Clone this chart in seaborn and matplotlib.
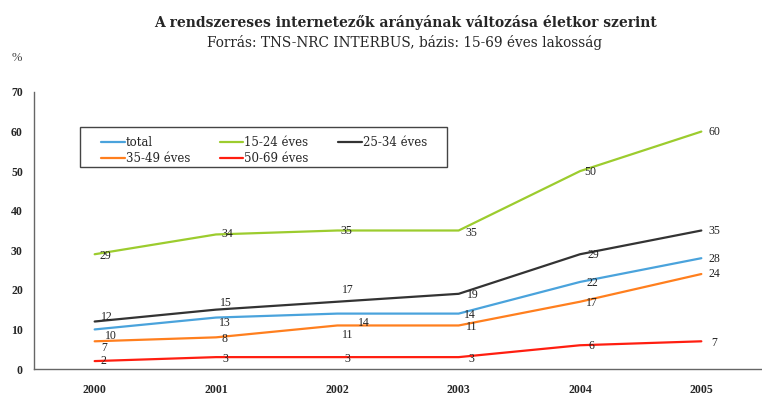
import matplotlib
matplotlib.use("Agg")
import matplotlib.pyplot as plt
from matplotlib.patches import Rectangle
import numpy as np
import pandas as pd
import seaborn as sns

years = ["2000", "2001", "2002", "2003", "2004", "2005"]
groups = ["total", "15-24 éves", "25-34 éves", "35-49 éves", "50-69 éves"]
total = [10, 13, 14, 14, 22, 28]
age_15_24 = [29, 34, 35, 35, 50, 60]
age_25_34 = [12, 15, 17, 19, 29, 35]
age_35_49 = [7, 8, 11, 11, 17, 24]
age_50_69 = [2, 3, 3, 3, 6, 7]

colors = ["#4aa3dc", "#9ccc2e", "#333333", "#ff7f1e", "#ff1e10"]

# label offsets in pixels (dx, dy) per series and year
offsets = {
    "total": [(16, -7), (9, -5), (26, -9), (11, -1), (12, -1), (13, -1)],
    "15-24 éves": [(11, -2), (11, 0), (9, -1), (13, -2), (10, -1), (13, 0)],
    "25-34 éves": [(12, 5), (10, 7), (10, 12), (14, -1), (13, -1), (13, 0)],
    "35-49 éves": [(10, -7), (9, -2), (10, -10), (13, -2), (12, -1), (13, 0)],
    "50-69 éves": [(9, 0), (9, -2), (10, -2), (13, -2), (11, -1), (13, -2)],
}

series = [total, age_15_24, age_25_34, age_35_49, age_50_69]
df = pd.DataFrame({
    "x": np.tile(np.arange(len(years)), len(groups)),
    "value": np.concatenate(series),
    "group": np.repeat(groups, len(years)),
})

sns.set_style("white")
plt.rcParams["font.family"] = ["Liberation Serif", "DejaVu Serif"]

W, H = 762, 398
fig = plt.figure(figsize=(W / 100, H / 100), dpi=100)
ax = fig.add_axes([34 / W, 1 - 369 / H, 728 / W, (369 - 92) / H])

sns.lineplot(data=df, x="x", y="value", hue="group", hue_order=groups,
             palette=colors, linewidth=1.6, ax=ax, legend=True)

for g, vals in zip(groups, series):
    for i, v in enumerate(vals):
        dx, dy = offsets[g][i]
        ax.annotate(str(v), (i, v), xytext=(dx, dy), textcoords="offset pixels",
                    ha="center", va="center", fontsize=8.5, color="#222222")

ax.set_xlim(-0.5, len(years) - 0.5)
ax.set_ylim(0, 70)
ax.set_xticks(np.arange(len(years)))
ax.set_xticklabels(years, fontsize=8.5, fontweight="bold")
ax.set_xticks(np.arange(len(years) + 1) - 0.5, minor=True)
ax.tick_params(axis="x", which="major", length=0, pad=11)
ax.tick_params(axis="x", which="minor", length=3.5, width=1, color="#666666", direction="out")
ax.set_yticks(range(0, 71, 10))
ax.tick_params(axis="y", which="major", length=3, width=1, color="#666666",
               direction="out", labelsize=8.5, pad=5)
for lbl in ax.get_yticklabels():
    lbl.set_fontweight("bold")
ax.set_xlabel("")
ax.set_ylabel("")
for s in ["top", "right"]:
    ax.spines[s].set_visible(False)
for s in ["left", "bottom"]:
    ax.spines[s].set_color("#666666")
    ax.spines[s].set_linewidth(1)

# legend box
fig.patches.append(Rectangle((80 / W, 1 - 167 / H), 367 / W, 40 / H,
                             transform=fig.transFigure, fill=False,
                             edgecolor="#444444", linewidth=1))
handles, labels = ax.get_legend_handles_labels()
order = [0, 3, 1, 4, 2]
leg = ax.legend([handles[k] for k in order], [labels[k] for k in order],
                ncol=3, loc="upper left", bbox_to_anchor=(95 / W, 1 - 130 / H),
                bbox_transform=fig.transFigure, frameon=False,
                prop={"family": "DejaVu Serif", "size": 8.5},
                handlelength=2.0, handletextpad=0.1, columnspacing=2.5,
                labelspacing=0.25, borderpad=0)
for line in leg.get_lines():
    line.set_linewidth(1.6)

fig.text(405 / W, 1 - 22 / H, "A rendszereses internetezők arányának változása életkor szerint",
         ha="center", va="center", fontsize=10, fontweight="bold", family="DejaVu Serif")
fig.text(405 / W, 1 - 43 / H, "Forrás: TNS-NRC INTERBUS, bázis: 15-69 éves lakosság",
         ha="center", va="center", fontsize=9.8, family="DejaVu Serif")
fig.text(17 / W, 1 - 58 / H, "%", ha="center", va="center", fontsize=9, color="#444444")

fig.savefig("out.png", dpi=100)
